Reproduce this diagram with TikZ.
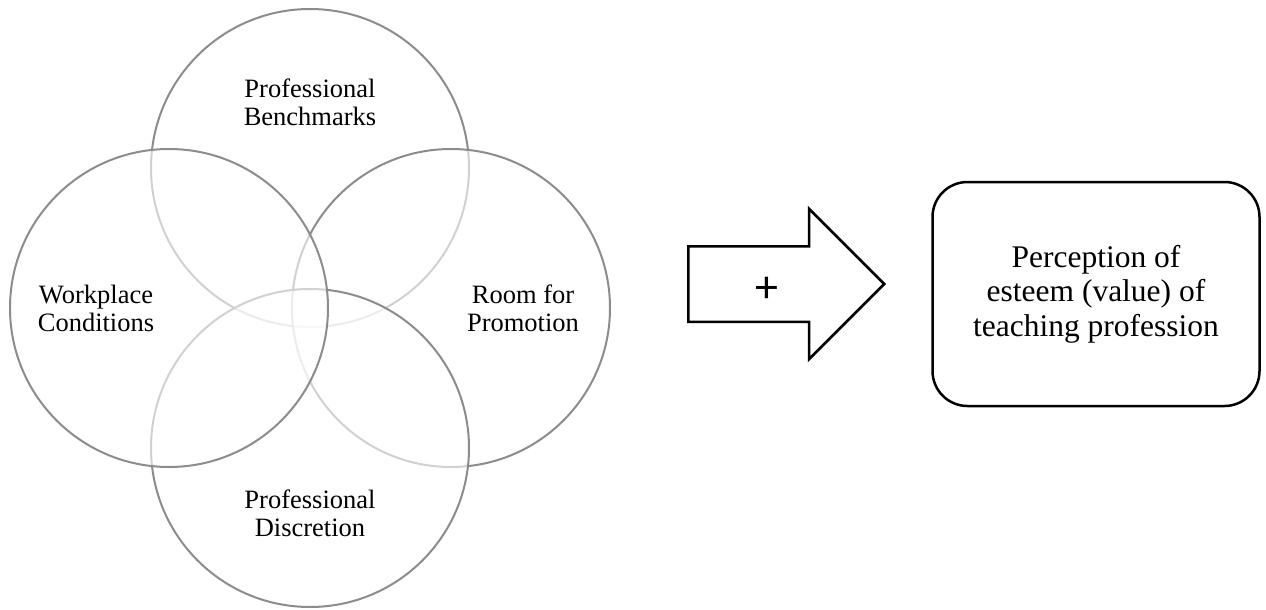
\documentclass[tikz,border=0pt]{standalone}
\usepackage{fontspec}
\setmainfont{Liberation Serif}
\newfontfamily\plusfont{Carlito}
\usepackage{xcolor}
\usetikzlibrary{positioning}
\usetikzlibrary{shapes.arrows}
\definecolor{ringgray}{gray}{0.55}

\begin{document}
\begin{tikzpicture}[x=1pt, y=-1pt, on grid,
		ring/.style = {circle, draw=ringgray, line width=2pt, fill=white, fill opacity=0.6, minimum size=318pt, inner sep=0pt},
		ringtext/.style = {align=center, font=\fontsize{26.5pt}{28pt}\selectfont},
		bigarrow/.style = {single arrow, draw, line width=2.5pt, inner xsep=0pt, inner ysep=36.5pt, text height=0pt, text depth=0pt, single arrow head extend=37.5pt, minimum height=196pt},
		plus/.style = {font=\plusfont\fontsize{46pt}{46pt}\selectfont},
		result/.style = {draw, line width=2.5pt, rounded corners=35pt, minimum width=327pt, minimum height=224pt, align=center, font=\fontsize{31.5pt}{34.5pt}\selectfont}]
		\useasboundingbox (0,0) rectangle (1266,610);
		\node[ring] (PB) at (310,168) {};
		\node[ring, below right = 140pt and 141pt of PB] (RP) {};
		\node[ring, below = 280pt of PB] (PD) {};
		\node[ring, below left = 140pt and 141pt of PB] (WC) {};
		\node[ringtext, above = 66pt of PB] (PBtext) {Professional\\Benchmarks};
		\node[ringtext, right = 72pt of RP] (RPtext) {Room for\\Promotion};
		\node[ringtext, below = 65pt of PD] (PDtext) {Professional\\Discretion};
		\node[ringtext, left = 73pt of WC] (WCtext) {Workplace\\Conditions};
		\node[bigarrow, anchor=tail] (arr) at (687,284) {};
		\node[plus] (plus) at (767,290) {+};
		\node[result] (PE) at (1096,294) {Perception of\\esteem (value) of\\teaching profession};
	\end{tikzpicture}
\end{document}
